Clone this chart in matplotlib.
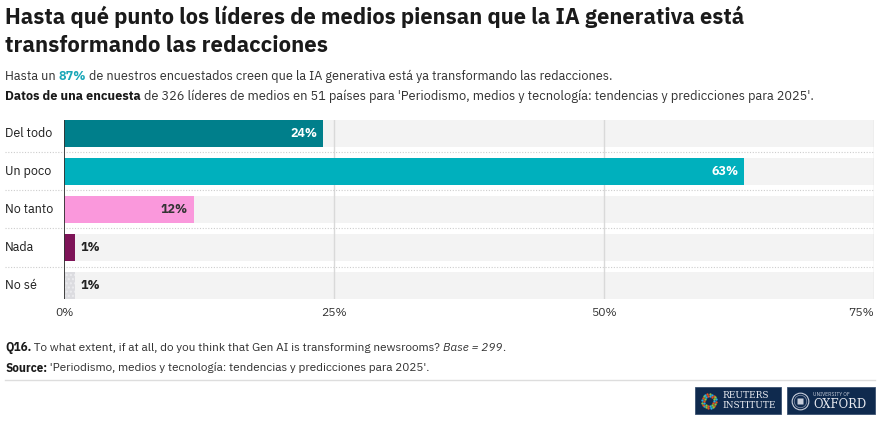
import matplotlib
matplotlib.use("Agg")
import matplotlib.pyplot as plt
from matplotlib.patches import Rectangle
from matplotlib import font_manager as fm
import numpy as np

categories = ["Del todo", "Un poco", "No tanto", "Nada", "No sé"]
values = [24, 63, 12, 1, 1]
value_labels = ["24%", "63%", "12%", "1%", "1%"]
bar_colors = ["#007f8b", "#00b0bd", "#fa98dc", "#7e1458", "#dcdce0"]
label_colors = ["white", "white", "#333333", "#222222", "#222222"]
label_inside = [True, True, True, False, False]
tick_values = [0, 25, 50, 75]
tick_labels = ["0%", "25%", "50%", "75%"]

FONT = ["IBM Plex Sans", "Noto Sans", "DejaVu Sans"]
plt.rcParams['font.family'] = FONT

def find_face(weight_min, italic=False):
    best = None
    for f in fm.fontManager.ttflist:
        nm = f.name.lower()
        if "plex sans" in nm and "condensed" not in nm and "mono" not in nm:
            w = f.weight if isinstance(f.weight, int) else 400
            it = f.style in ("italic", "oblique")
            if it == italic and w >= weight_min:
                if best is None or abs(w - 700) < abs(best[0] - 700):
                    best = (w, f.fname)
    return best[1] if best else None

bold_path = find_face(600)
ital_path = find_face(300, italic=True)

def bold_kw(size):
    if bold_path:
        return dict(fontproperties=fm.FontProperties(fname=bold_path, size=size))
    return dict(fontsize=size, fontweight="bold", family=["Noto Sans", "DejaVu Sans"])

def ital_kw(size):
    if ital_path:
        return dict(fontproperties=fm.FontProperties(fname=ital_path, size=size))
    return dict(fontsize=size, style="italic")

W, H = 881, 425
fig = plt.figure(figsize=(W / 100, H / 100), dpi=100)
fig.patch.set_facecolor("white")
fig.canvas.draw()
r = fig.canvas.get_renderer()

def fx(px):
    return px / W

def fy(py):
    return 1 - py / H

def run_line(x_px, y_px, parts, base_size, target_end=None):
    def draw(size):
        arts = []
        x = x_px
        for txt, kind, col in parts:
            if kind == "bold":
                kw = bold_kw(size)
            elif kind == "italic":
                kw = ital_kw(size)
            else:
                kw = dict(fontsize=size)
            t = fig.text(x / W, fy(y_px), txt, color=col, va="center", ha="left", **kw)
            arts.append(t)
            x = t.get_window_extent(r).x1
        return arts, x
    arts, end = draw(base_size)
    if target_end is not None:
        size = base_size * (target_end - x_px) / (end - x_px)
        for a in arts:
            a.remove()
        arts, end = draw(size)
    return arts

# Title
run_line(5, 17, [("Hasta qué punto los líderes de medios piensan que la IA generativa está", "bold", "#1a1a1a")], 14.6, 745)
run_line(5, 45, [("transformando las redacciones", "bold", "#1a1a1a")], 14.6, 328)

# Subtitle
run_line(5, 76, [("Hasta un ", "regular", "#333333"), ("87%", "bold", "#1aa7b8"),
                 (" de nuestros encuestados creen que la IA generativa está ya transformando las redacciones.", "regular", "#333333")],
         8.7, 615)
run_line(5, 96, [("Datos de una encuesta", "bold", "#1a1a1a"),
                 (" de 326 líderes de medios en 51 países para 'Periodismo, medios y tecnología: tendencias y predicciones para 2025'.", "regular", "#333333")],
         8.7, 813)

# Chart axes: x 64..874 px, y 120..299 px
ax = fig.add_axes([fx(64), fy(299), fx(874) - fx(64), (299 - 120) / H])
ax.set_xlim(0, 75)
n = len(categories)
bh = 27 / 38
ax.set_ylim(n - 1 + bh / 2, -bh / 2)
ax.axis("off")

y = np.arange(n)
ax.barh(y, [75] * n, height=bh, color="#f3f3f3", zorder=1)
for tv in tick_values[1:]:
    ax.axvline(tv, color="#d9d9d9", linewidth=1, zorder=2)
bars = ax.barh(y, values, height=bh, color=bar_colors, zorder=3)
bars[-1].set_hatch("....")
bars[-1].set_edgecolor("#ececef")
bars[-1].set_linewidth(0)

ax.axvline(0, color="#333333", linewidth=1.3, zorder=4)

ytr = ax.get_yaxis_transform()
x0_ax = (5 - 64) / 810
for i in range(n - 1):
    ax.plot([x0_ax, 1.0], [i + 0.5, i + 0.5], transform=ytr, linestyle=(0, (1, 1.5)),
            color="#cdcdcd", linewidth=0.8, clip_on=False, zorder=2)

for i, c in enumerate(categories):
    ax.text(x0_ax, i, c, transform=ytr, ha="left", va="center", fontsize=9, color="#222222")

for i, (v, lab) in enumerate(zip(values, value_labels)):
    if label_inside[i]:
        ax.text(v - 0.5, i, lab, ha="right", va="center", color=label_colors[i], zorder=5, **bold_kw(9))
    else:
        ax.text(v + 0.5, i, lab, ha="left", va="center", color=label_colors[i], zorder=5, **bold_kw(9))

for tv, tl in zip(tick_values, tick_labels):
    ha = "right" if tv == 75 else "center"
    ax.text(tv, n - 1 + bh / 2 + 14 / 38, tl, ha=ha, va="center", fontsize=8.7, color="#333333")

# footer
run_line(5, 348, [("Q16.", "bold", "#1a1a1a"),
                  (" To what extent, if at all, do you think that Gen AI is transforming newsrooms? ", "regular", "#333333"),
                  ("Base = 299", "italic", "#333333"), (".", "regular", "#333333")], 7.6, 503)
run_line(5, 368, [("Source:", "bold", "#1a1a1a"),
                  (" 'Periodismo, medios y tecnología: tendencias y predicciones para 2025'.", "regular", "#333333")], 7.6, 427)

fig.add_artist(plt.Line2D([fx(5), fx(875)], [fy(380), fy(380)], color="#dddddd", linewidth=1))

# logos
navy = "#0f2a4e"
fig.add_artist(Rectangle((fx(695), fy(414)), fx(781) - fx(695), (414 - 387) / H,
                         facecolor=navy, edgecolor="#3a5070", linewidth=0.6, transform=fig.transFigure))
fig.add_artist(Rectangle((fx(787), fy(414)), fx(875) - fx(787), (414 - 387) / H,
                         facecolor=navy, edgecolor="#3a5070", linewidth=0.6, transform=fig.transFigure))
dot_cols = ["#e94e1b", "#f7a600", "#00a0c6", "#8cc63f", "#d4145a", "#ffffff", "#29abe2", "#f15a24", "#9b59b6"]
cx, cy = 709, 401
k = 0
for rad, cnt in ((7.0, 20), (5.0, 14)):
    for j in range(cnt):
        a = 2 * np.pi * j / cnt + rad
        fig.add_artist(plt.Line2D([fx(cx + rad * np.cos(a))], [fy(cy + rad * np.sin(a))], marker="o",
                                  markersize=1.7, markerfacecolor=dot_cols[k % len(dot_cols)],
                                  markeredgecolor="none"))
        k += 3
fig.text(fx(722), fy(396), "REUTERS", fontsize=6.5, family="DejaVu Serif", color="#e8eaf0", va="center", ha="left")
fig.text(fx(722), fy(406), "INSTITUTE", fontsize=6.5, family="DejaVu Serif", color="#e8eaf0", va="center", ha="left")
fig.add_artist(plt.Line2D([fx(800)], [fy(401)], marker="o", markersize=12, markerfacecolor="none",
                          markeredgecolor="#c9cfdb", markeredgewidth=0.8))
fig.add_artist(plt.Line2D([fx(800)], [fy(401)], marker="o", markersize=9, markerfacecolor="none",
                          markeredgecolor="#8f9ab0", markeredgewidth=0.5))
fig.add_artist(plt.Line2D([fx(800)], [fy(401)], marker="s", markersize=4, markerfacecolor="#c9cfdb",
                          markeredgecolor="none"))
fig.text(fx(813), fy(394), "UNIVERSITY OF", fontsize=3.6, color="#c9cfdb", va="center", ha="left")
fig.text(fx(813), fy(405), "OXFORD", fontsize=8.4, family="DejaVu Serif", color="#e8eaf0", va="center", ha="left")

fig.savefig("out.png", dpi=100, facecolor="white")
